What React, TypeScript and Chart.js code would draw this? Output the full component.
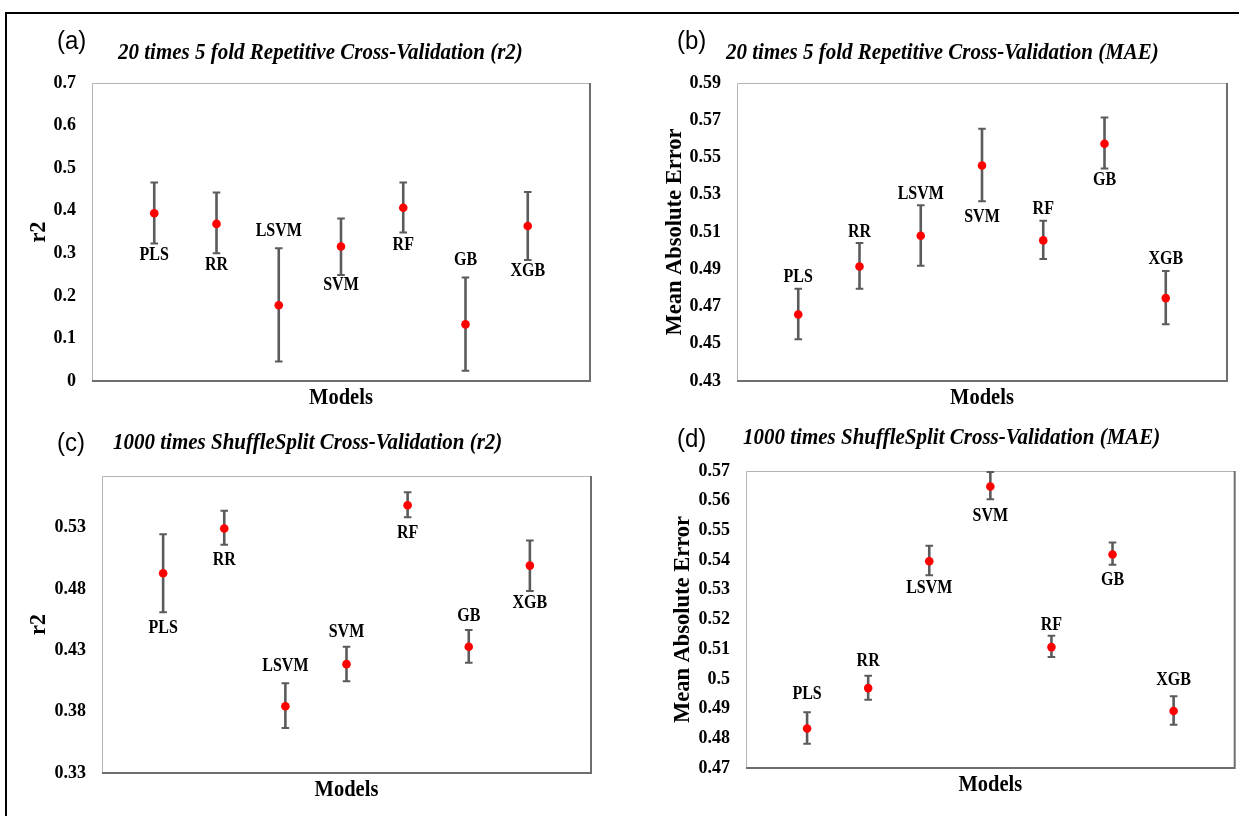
import React, { useEffect, useRef } from 'react';
import { Chart, registerables } from 'chart.js';

Chart.register(...registerables);

const models = ['PLS', 'RR', 'LSVM', 'SVM', 'RF', 'GB', 'XGB'];

// (a) 20 times 5 fold Repetitive CV, r2
const aMean = [0.394, 0.369, 0.178, 0.316, 0.407, 0.133, 0.364];
const aUpper = [0.466, 0.443, 0.312, 0.382, 0.466, 0.243, 0.444];
const aLower = [0.323, 0.3, 0.046, 0.249, 0.349, 0.024, 0.284];
const aTicks = [0, 0.1, 0.2, 0.3, 0.4, 0.5, 0.6, 0.7];

// (b) 20 times 5 fold Repetitive CV, MAE
const bMean = [0.4657, 0.4915, 0.508, 0.5457, 0.5055, 0.5574, 0.4745];
const bUpper = [0.4795, 0.5041, 0.5243, 0.5654, 0.5161, 0.5715, 0.489];
const bLower = [0.4524, 0.4795, 0.4919, 0.5265, 0.4955, 0.5441, 0.4605];
const bTicks = [0.43, 0.45, 0.47, 0.49, 0.51, 0.53, 0.55, 0.57, 0.59];

// (c) 1000 times ShuffleSplit CV, r2
const cMean = [0.4927, 0.5292, 0.3844, 0.4187, 0.5482, 0.4329, 0.499];
const cUpper = [0.5246, 0.5436, 0.4032, 0.4329, 0.5588, 0.4465, 0.5194];
const cLower = [0.4609, 0.5159, 0.3667, 0.4048, 0.5384, 0.4198, 0.4783];
const cTicks = [0.33, 0.38, 0.43, 0.48, 0.53];

// (d) 1000 times ShuffleSplit CV, MAE
const dMean = [0.4833, 0.4969, 0.5396, 0.5648, 0.5107, 0.5419, 0.4892];
const dUpper = [0.4888, 0.5011, 0.5448, 0.5697, 0.5145, 0.5459, 0.4942];
const dLower = [0.4782, 0.493, 0.5349, 0.5605, 0.5074, 0.5384, 0.4846];
const dTicks = [0.47, 0.48, 0.49, 0.5, 0.51, 0.52, 0.53, 0.54, 0.55, 0.56, 0.57];

type Panel = {
  letter: string;
  title: string;
  yTitle: string;
  mean: number[];
  upper: number[];
  lower: number[];
  ticks: number[];
  yMin: number;
  yMax: number;
  rect: { x: number; y: number; w: number; h: number };
  area: { left: number; top: number; right: number; bottom: number };
  titleX: number;
  titleY: number;
  letterX: number;
  letterY: number;
  yTitleX: number;
  labelDy: number[];
};

const panels: Panel[] = [
  {
    letter: '(a)',
    title: '20 times 5 fold Repetitive Cross-Validation (r2)',
    yTitle: 'r2',
    mean: aMean, upper: aUpper, lower: aLower, ticks: aTicks, yMin: 0, yMax: 0.7,
    rect: { x: 0, y: 0, w: 620, h: 410 },
    area: { left: 92, top: 83, right: 590, bottom: 381 },
    titleX: 118, titleY: 53, letterX: 57, letterY: 42, yTitleX: 39.5,
    labelDy: [12, 12, -17, 10, 12.5, -18, 11],
  },
  {
    letter: '(b)',
    title: '20 times 5 fold Repetitive Cross-Validation (MAE)',
    yTitle: 'Mean Absolute Error',
    mean: bMean, upper: bUpper, lower: bLower, ticks: bTicks, yMin: 0.43, yMax: 0.59,
    rect: { x: 620, y: 0, w: 619, h: 410 },
    area: { left: 737, top: 83, right: 1227, bottom: 381 },
    titleX: 726, titleY: 53, letterX: 677, letterY: 42, yTitleX: 675,
    labelDy: [-12, -11, -11, 16, -11.5, 12, -12.5],
  },
  {
    letter: '(c)',
    title: '1000 times ShuffleSplit Cross-Validation (r2)',
    yTitle: 'r2',
    mean: cMean, upper: cUpper, lower: cLower, ticks: cTicks, yMin: 0.33, yMax: 0.572,
    rect: { x: 0, y: 410, w: 620, h: 406 },
    area: { left: 102, top: 476, right: 591, bottom: 773 },
    titleX: 113, titleY: 443, letterX: 57, letterY: 444, yTitleX: 39.5,
    labelDy: [16, 15.5, -17, -15, 16, -13.5, 12.5],
  },
  {
    letter: '(d)',
    title: '1000 times ShuffleSplit Cross-Validation (MAE)',
    yTitle: 'Mean Absolute Error',
    mean: dMean, upper: dUpper, lower: dLower, ticks: dTicks, yMin: 0.47, yMax: 0.57,
    rect: { x: 620, y: 410, w: 619, h: 406 },
    area: { left: 746, top: 471, right: 1235, bottom: 768 },
    titleX: 743, titleY: 438, letterX: 677, letterY: 440, yTitleX: 683,
    labelDy: [-18, -14.5, 13, 16.5, -11, 15, -16.5],
  },
];

const SERIF = '"Liberation Serif", "Times New Roman", serif';
const SANS = '"Liberation Sans", Arial, sans-serif';

function drawText(
  ctx: CanvasRenderingContext2D,
  s: string,
  x: number,
  y: number,
  font: string,
  align: CanvasTextAlign = 'center',
  sy = 1.12
) {
  ctx.save();
  ctx.font = font;
  ctx.textAlign = align;
  ctx.textBaseline = 'middle';
  ctx.fillStyle = '#000';
  ctx.translate(x, y);
  ctx.scale(1, sy);
  ctx.fillText(s, 0, 0);
  ctx.restore();
}

function makePlugin(p: Panel) {
  return {
    id: 'panelDeco' + p.letter.replace(/[()]/g, ''),
    beforeDatasetsDraw(chart: any) {
      const { ctx, chartArea: a, scales } = chart;
      const xs = scales.x;
      const ys = scales.y;
      ctx.save();
      // plot frame
      ctx.strokeStyle = '#b4b4b4';
      ctx.lineWidth = 1;
      ctx.beginPath();
      ctx.moveTo(a.left + 0.5, a.bottom);
      ctx.lineTo(a.left + 0.5, a.top + 0.5);
      ctx.lineTo(a.right, a.top + 0.5);
      ctx.stroke();
      ctx.strokeStyle = '#6e6e6e';
      ctx.lineWidth = 2;
      ctx.beginPath();
      ctx.moveTo(a.left, a.bottom);
      ctx.lineTo(a.right, a.bottom);
      ctx.lineTo(a.right, a.top);
      ctx.stroke();
      // error bars
      ctx.strokeStyle = '#5b5b5b';
      p.mean.forEach((_, i) => {
        const x = xs.getPixelForValue(i + 1);
        const yu = ys.getPixelForValue(p.upper[i]);
        const yl = ys.getPixelForValue(p.lower[i]);
        ctx.lineWidth = 2.6;
        ctx.beginPath();
        ctx.moveTo(x, yu);
        ctx.lineTo(x, yl);
        ctx.stroke();
        ctx.lineWidth = 2;
        ctx.beginPath();
        ctx.moveTo(x - 3.8, yu);
        ctx.lineTo(x + 3.8, yu);
        ctx.moveTo(x - 3.8, yl);
        ctx.lineTo(x + 3.8, yl);
        ctx.stroke();
      });
      ctx.restore();
    },
    afterDraw(chart: any) {
      const { ctx, chartArea: a, scales } = chart;
      const xs = scales.x;
      const ys = scales.y;
      const ox = p.rect.x;
      const oy = p.rect.y;
      // category labels
      models.forEach((m, i) => {
        const x = xs.getPixelForValue(i + 1);
        const dy = p.labelDy[i];
        const yBase = dy < 0 ? ys.getPixelForValue(p.upper[i]) : ys.getPixelForValue(p.lower[i]);
        drawText(ctx, m, x, yBase + dy, `bold 16px ${SERIF}`, 'center', 1.2);
      });
      // panel letter and title
      drawText(ctx, p.letter, p.letterX - ox, p.letterY - oy, `24px ${SANS}`, 'left', 1.05);
      drawText(ctx, p.title, p.titleX - ox, p.titleY - oy, `italic bold 21px ${SERIF}`, 'left', 1.1);
      // x title
      drawText(ctx, 'Models', (a.left + a.right) / 2, a.bottom + 16.5, `bold 20.5px ${SERIF}`, 'center', 1.15);
      // y title
      ctx.save();
      ctx.font = `bold 22.5px ${SERIF}`;
      ctx.textAlign = 'center';
      ctx.textBaseline = 'middle';
      ctx.fillStyle = '#000';
      ctx.translate(p.yTitleX - ox, (a.top + a.bottom) / 2);
      ctx.rotate(-Math.PI / 2);
      ctx.fillText(p.yTitle, 0, 0);
      ctx.restore();
    },
  };
}

function PanelChart({ p }: { p: Panel }) {
  const ref = useRef<HTMLCanvasElement | null>(null);
  useEffect(() => {
    if (!ref.current) return;
    const r = p.rect;
    const chart = new Chart(ref.current, {
      type: 'scatter',
      data: {
        datasets: [
          {
            data: p.mean.map((v, i) => ({ x: i + 1, y: v })),
            pointRadius: 4.3,
            pointHoverRadius: 4.3,
            backgroundColor: '#ff0000',
            borderColor: '#ff0000',
            borderWidth: 0,
          },
        ],
      },
      options: {
        animation: false,
        responsive: false,
        events: [],
        layout: {
          padding: {
            left: 0,
            top: p.area.top - r.y,
            right: r.x + r.w - p.area.right,
            bottom: r.y + r.h - p.area.bottom,
          },
        },
        plugins: {
          legend: { display: false },
          tooltip: { enabled: false },
          title: { display: false },
        },
        scales: {
          x: { type: 'linear', min: 0, max: 8, display: false },
          y: {
            type: 'linear',
            min: p.yMin,
            max: p.yMax,
            afterBuildTicks: (s: any) => {
              s.ticks = p.ticks.map((v) => ({ value: v }));
            },
            afterFit: (s: any) => {
              s.width = p.area.left - r.x;
            },
            grid: { display: false, drawTicks: false },
            border: { display: false },
            ticks: {
              padding: 16,
              color: '#000',
              font: { family: SERIF, weight: 'bold', size: 18 },
              callback: (v: any) => String(Number(Number(v).toFixed(2))),
            },
          },
        },
      },
      plugins: [makePlugin(p)],
    } as any);
    return () => chart.destroy();
  }, [p]);
  return (
    <canvas
      ref={ref}
      width={p.rect.w}
      height={p.rect.h}
      style={{
        position: 'absolute',
        left: p.rect.x,
        top: p.rect.y,
        width: p.rect.w,
        height: p.rect.h,
      }}
    />
  );
}

export default function App() {
  return (
    <div
      style={{
        position: 'absolute',
        left: 0,
        top: 0,
        width: 1239,
        height: 816,
        background: '#fff',
        overflow: 'hidden',
      }}
    >
      <div
        style={{
          position: 'absolute',
          left: 5,
          top: 12,
          width: 1239,
          height: 816,
          borderTop: '2px solid #000',
          borderLeft: '2px solid #000',
        }}
      />
      {panels.map((p) => (
        <PanelChart key={p.letter} p={p} />
      ))}
    </div>
  );
}
